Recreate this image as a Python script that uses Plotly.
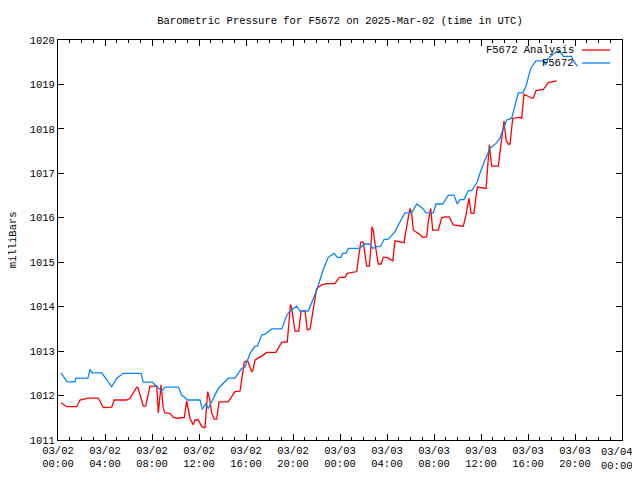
import plotly.graph_objects as go

# hours since 2025-03-02 00:00 UTC
obs_hours = [0.26, 0.77, 1.45, 1.53, 2.55, 2.72, 2.92, 3.72, 4.57, 5.0, 5.56, 7.06, 7.26, 8.03, 8.83, 9.11,
             10.24, 10.53, 11.04, 12.09, 12.28, 12.57, 12.79, 13.64, 14.49, 15.06, 15.63, 15.91, 16.34, 16.77,
             16.96, 17.34, 17.62, 18.19, 19.04, 19.46, 19.74, 20.31, 20.6, 21.3, 22.02, 22.58, 23.0, 23.49,
             23.77, 24.06, 24.23, 24.51, 24.71, 25.7, 26.04, 26.55, 26.78, 27.12, 27.46, 27.74, 28.11, 28.68,
             29.11, 29.53, 30.1, 30.53, 31.04, 31.32, 31.94, 32.17, 32.74, 33.22, 33.7, 33.98, 34.21, 34.55,
             34.92, 35.21, 35.69, 35.91, 36.34, 36.77, 37.34, 37.62, 37.76, 38.19, 38.61, 38.89, 39.17, 39.55,
             39.83, 40.23, 40.68, 41.36, 41.51, 41.73, 42.44, 42.72, 43.0, 43.72, 43.86, 44.2]
obs_mb = [1012.51, 1012.31, 1012.31, 1012.39, 1012.39, 1012.59, 1012.51, 1012.51, 1012.2, 1012.39, 1012.5,
          1012.5, 1012.3, 1012.3, 1012.1, 1012.19, 1012.19, 1012.01, 1011.9, 1011.9, 1011.69, 1011.81, 1011.71,
          1012.16, 1012.39, 1012.39, 1012.61, 1012.63, 1012.95, 1013.11, 1013.11, 1013.36, 1013.38, 1013.5,
          1013.5, 1013.8, 1013.9, 1014.01, 1013.9, 1013.9, 1014.37, 1014.84, 1015.11, 1015.2, 1015.11, 1015.11,
          1015.2, 1015.2, 1015.31, 1015.31, 1015.41, 1015.41, 1015.31, 1015.35, 1015.36, 1015.51, 1015.52,
          1015.69, 1015.91, 1016.11, 1016.11, 1016.31, 1016.21, 1016.11, 1016.11, 1016.31, 1016.31, 1016.51,
          1016.51, 1016.31, 1016.41, 1016.41, 1016.61, 1016.61, 1016.81, 1017.0, 1017.3, 1017.56, 1017.69,
          1017.79, 1017.9, 1018.2, 1018.24, 1018.5, 1018.81, 1018.81, 1018.96, 1019.36, 1019.53, 1019.53,
          1019.44, 1019.59, 1019.74, 1019.74, 1019.63, 1019.63, 1019.53, 1019.41]

ana_hours = [0.26, 0.74, 1.59, 1.87, 2.58, 3.43, 3.86, 4.57, 4.79, 5.85, 6.13, 6.7, 6.81, 7.26, 7.46, 7.83,
             8.4, 8.54, 8.77, 8.96, 9.11, 9.53, 9.81, 10.24, 10.75, 10.95, 11.23, 11.51, 11.66, 11.94, 12.23,
             12.51, 12.74, 12.89, 13.08, 13.3, 13.51, 13.7, 14.49, 15.06, 15.49, 15.86, 16.14, 16.48, 16.57,
             16.77, 17.47, 17.76, 18.55, 19.04, 19.51, 19.69, 19.79, 19.89, 20.17, 20.49, 20.68, 21.02, 21.22,
             21.45, 21.73, 22.02, 22.44, 22.87, 23.57, 23.94, 24.43, 24.62, 25.42, 25.56, 25.76, 25.98, 26.13,
             26.27, 26.49, 26.61, 26.72, 26.83, 26.98, 27.26, 27.49, 27.69, 27.97, 28.49, 28.68, 29.25, 29.45,
             29.68, 29.96, 30.1, 30.24, 30.66, 31.04, 31.38, 31.51, 31.72, 31.89, 32.37, 32.65, 32.94, 33.3,
             33.64, 34.06, 34.49, 34.72, 34.98, 35.15, 35.4, 35.63, 35.69, 36.43, 36.54, 36.71, 36.91, 37.47,
             37.68, 37.96, 38.13, 38.32, 38.47, 38.7, 39.32, 39.46, 39.66, 40.31, 40.45, 40.68, 41.3, 41.73,
             42.44]
ana_mb = [1011.84, 1011.75, 1011.75, 1011.9, 1011.94, 1011.94, 1011.73, 1011.74, 1011.9, 1011.9, 1011.94,
          1012.19, 1012.17, 1011.76, 1011.76, 1012.21, 1012.21, 1011.61, 1012.24, 1011.71, 1011.61, 1011.6,
          1011.51, 1011.49, 1011.51, 1011.88, 1011.49, 1011.34, 1011.45, 1011.45, 1011.3, 1011.28, 1012.09,
          1011.95, 1011.6, 1011.47, 1011.47, 1011.86, 1011.86, 1012.09, 1012.1, 1012.76, 1012.78, 1012.54,
          1012.55, 1012.8, 1012.91, 1012.97, 1012.97, 1013.2, 1013.2, 1013.85, 1014.05, 1013.96, 1013.45,
          1013.45, 1013.9, 1013.91, 1013.48, 1013.5, 1013.92, 1014.41, 1014.49, 1014.52, 1014.52, 1014.66,
          1014.66, 1014.75, 1014.79, 1015.11, 1015.45, 1015.45, 1015.16, 1014.91, 1014.91, 1015.26, 1015.8,
          1015.72, 1015.42, 1014.96, 1014.96, 1015.11, 1015.11, 1015.03, 1015.48, 1015.44, 1015.44, 1015.81,
          1016.21, 1016.1, 1015.72, 1015.65, 1015.56, 1015.57, 1015.91, 1016.21, 1015.72, 1015.72, 1016.0,
          1016.02, 1016.02, 1015.84, 1015.82, 1015.81, 1016.06, 1016.44, 1016.1, 1016.1, 1016.59, 1016.69,
          1016.66, 1017.15, 1017.64, 1017.16, 1017.16, 1017.6, 1018.18, 1017.75, 1017.66, 1017.66, 1018.24,
          1018.26, 1018.24, 1018.78, 1018.69, 1018.69, 1018.86, 1018.89, 1019.04, 1019.08]

tick_hours = [0, 4, 8, 12, 16, 20, 24, 28, 32, 36, 40, 44, 48]
tick_labels = ["03/02<br>00:00", "03/02<br>04:00", "03/02<br>08:00", "03/02<br>12:00", "03/02<br>16:00",
               "03/02<br>20:00", "03/03<br>00:00", "03/03<br>04:00", "03/03<br>08:00", "03/03<br>12:00",
               "03/03<br>16:00", "03/03<br>20:00", "03/04<br>00:00"]
y_ticks = [1011, 1012, 1013, 1014, 1015, 1016, 1017, 1018, 1019, 1020]

series_names = ["F5672 Analysis", "F5672"]
RED = "#ff0000"
BLUE = "#0a84ff"
FONT = "Liberation Mono"
FS = 10

fig = go.Figure()
fig.add_trace(go.Scatter(x=ana_hours, y=ana_mb, mode="lines", name=series_names[0],
                         line=dict(color=RED, width=1.3), showlegend=False))
fig.add_trace(go.Scatter(x=obs_hours, y=obs_mb, mode="lines", name=series_names[1],
                         line=dict(color=BLUE, width=1.3), showlegend=False))

# gnuplot-style key: text right-aligned, sample line on the right
for i, (nm, col) in enumerate(zip(series_names, [RED, BLUE])):
    yk = 0.975 - i * 0.0325
    fig.add_annotation(x=0.918, y=yk, xref="paper", yref="paper", text=nm, showarrow=False,
                       xanchor="right", yanchor="middle", font=dict(family=FONT, size=FS + 0.5, color="black"))
    fig.add_shape(type="line", xref="paper", yref="paper", x0=0.929, x1=0.979, y0=yk, y1=yk,
                  line=dict(color=col, width=1.3))

fig.add_annotation(x=-0.0795, y=0.5, xref="paper", yref="paper", text="milliBars", textangle=-90,
                   showarrow=False, xanchor="center", yanchor="middle", borderpad=0,
                   font=dict(family=FONT, size=FS + 0.5, color="black"))

# last time label sits at the page's right edge; keep it fully visible by right-anchoring it there
fig.add_annotation(x=1.0213, y=0, xref="paper", yref="paper", text=tick_labels[-1], showarrow=False,
                   xanchor="right", yanchor="top", yshift=-5, borderpad=0, align="center",
                   font=dict(family=FONT, size=FS + 0.5, color="black"))
axis_labels = tick_labels[:-1] + [""]

# the page body has an 8px margin; the figure fills the rest of the 640x480 window
fig.update_layout(
    width=624, height=464,
    margin=dict(l=50, r=10, t=32, b=32, autoexpand=False),
    paper_bgcolor="white", plot_bgcolor="white",
    title=dict(text="Barometric Pressure for F5672 on 2025-Mar-02 (time in UTC)", x=0.5, xanchor="center",
               xref="paper", yref="container", y=0.9741, yanchor="middle",
               font=dict(family=FONT, size=FS + 0.5, color="black")),
    font=dict(family=FONT, size=FS, color="black"),
    xaxis=dict(range=[0, 48], tickmode="array", tickvals=tick_hours, ticktext=axis_labels, automargin=False,
               showgrid=False, zeroline=False, showline=True, linecolor="black", linewidth=1,
               mirror="ticks", ticks="inside", ticklen=6, tickcolor="black", tickwidth=1,
               minor=dict(dtick=1, ticks="inside", ticklen=3, tickcolor="black", tickwidth=1, showgrid=False),
               tickfont=dict(family=FONT, size=FS + 0.5, color="black")),
    yaxis=dict(range=[1011, 1020], tickmode="array", tickvals=y_ticks, ticktext=[str(v) for v in y_ticks],
               automargin=False,
               showgrid=False, zeroline=False, showline=True, linecolor="black", linewidth=1,
               mirror="ticks", ticks="inside", ticklen=6, tickcolor="black", tickwidth=1,
               tickfont=dict(family=FONT, size=FS + 0.5, color="black")),
)

fig.write_html("out.html")
